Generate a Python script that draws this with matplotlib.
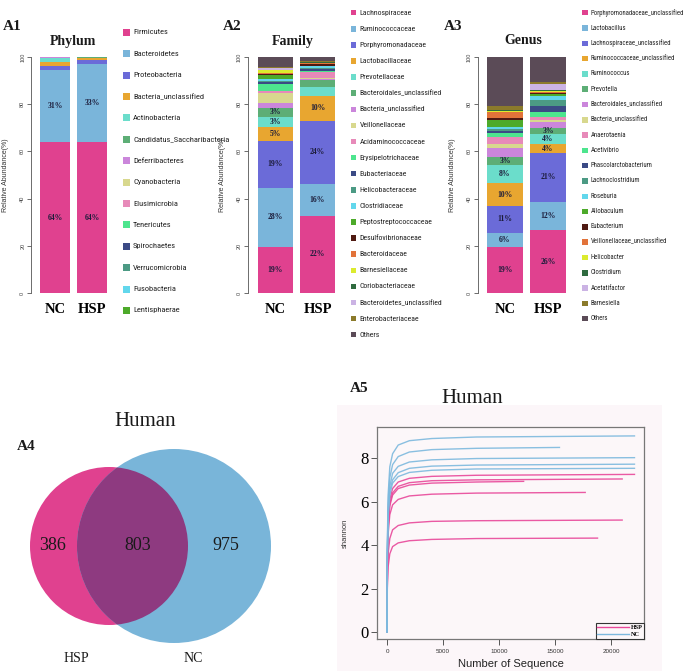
import matplotlib
matplotlib.use("Agg")
import matplotlib.pyplot as plt
from matplotlib import font_manager
from matplotlib.patches import Rectangle, Circle
from matplotlib.lines import Line2D

W, H = 685, 671

SERIF = ["Liberation Serif", "DejaVu Serif"]
SANS = ["Liberation Sans", "DejaVu Sans"]

# pick a condensed face for the long legend names if one is installed
_installed = {f.name for f in font_manager.fontManager.ttflist}
_narrow = [n for n in ("Liberation Sans Narrow", "DejaVu Sans Condensed", "Roboto Condensed",
                       "Open Sans Condensed", "Noto Sans Condensed") if n in _installed]
NARROW = (_narrow[:1] or ["Liberation Sans"]) + ["DejaVu Sans"]
LEG_SCALE = 1.0 if _narrow else 0.74

PALETTE = [
    "#E0418F", "#7AB5DA", "#6B6BD8", "#E8A630", "#6BDDCB", "#5DAE76",
    "#CB86DB", "#D8D88E", "#E78AB9", "#4DE58E", "#3B4A85", "#4C9A84",
    "#62D7EC", "#4DAA2A", "#4F1A12", "#E2733A", "#DCEB2E", "#2F6B3F",
    "#CBB3E4", "#8B7A2B", "#5B4B57",
]

GROUPS = ["NC", "HSP"]

# ---- A1: phylum ----
PHYLA = ["Firmicutes", "Bacteroidetes", "Proteobacteria", "Bacteria_unclassified",
         "Actinobacteria", "Candidatus_Saccharibacteria", "Deferribacteres",
         "Cyanobacteria", "Elusimicrobia", "Tenericutes", "Spirochaetes",
         "Verrucomicrobia", "Fusobacteria", "Lentisphaerae"]
PHYLUM_NC = [63.8, 30.8, 1.7, 1.7, 1.5, 0.2, 0.1, 0.05, 0.05, 0.05, 0.02, 0.02, 0.01, 0.0]
PHYLUM_HSP = [63.9, 33.2, 1.5, 0.8, 0.3, 0.2, 0.03, 0.02, 0.02, 0.01, 0.01, 0.01, 0.0, 0.0]
PHYLUM_NC_LABELS = ["64%", "31%"]
PHYLUM_HSP_LABELS = ["64%", "33%"]

# ---- A2: family ----
FAMILIES = ["Lachnospiraceae", "Ruminococcaceae", "Porphyromonadaceae", "Lactobacillaceae",
            "Prevotellaceae", "Bacteroidales_unclassified", "Bacteria_unclassified",
            "Veillonellaceae", "Acidaminococcaceae", "Erysipelotrichaceae", "Eubacteriaceae",
            "Helicobacteraceae", "Clostridiaceae", "Peptostreptococcaceae",
            "Desulfovibrionaceae", "Bacteroidaceae", "Barnesiellaceae", "Coriobacteriaceae",
            "Bacteroidetes_unclassified", "Enterobacteriaceae", "Others"]
FAMILY_NC = [19.5, 25.1, 19.8, 6.1, 3.9, 4.2, 2.0, 4.2, 0.8, 2.8, 1.0, 0.6, 0.5, 1.9,
             0.6, 0.3, 1.0, 0.4, 0.6, 0.6, 4.1]
FAMILY_HSP = [32.8, 13.5, 26.5, 10.8, 3.6, 2.9, 0.6, 0.2, 2.8, 0.5, 0.8, 0.5, 0.5, 0.3,
              0.6, 0.4, 0.2, 0.2, 0.2, 0.3, 1.8]
FAMILY_NC_LABELS = ["19%", "28%", "19%", "5%", "3%", "3%"]
FAMILY_HSP_LABELS = ["22%", "16%", "24%", "10%"]

# ---- A3: genus ----
GENERA = ["Porphyromonadaceae_unclassified", "Lactobacillus", "Lachnospiraceae_unclassified",
          "Ruminococcaceae_unclassified", "Ruminococcus", "Prevotella",
          "Bacteroidales_unclassified", "Bacteria_unclassified", "Anaerotaenia", "Acetivibrio",
          "Phascolarctobacterium", "Lachnoclostridium", "Roseburia", "Allobaculum",
          "Eubacterium", "Veillonellaceae_unclassified", "Helicobacter", "Clostridium",
          "Acetatifactor", "Barnesiella", "Others"]
GENUS_NC = [19.3, 6.2, 11.3, 9.7, 7.6, 3.4, 4.0, 1.7, 2.8, 2.0, 0.6, 0.8, 0.9, 2.8,
            0.9, 2.8, 0.5, 0.3, 0.1, 1.7, 20.6]
GENUS_HSP = [26.6, 12.1, 20.6, 3.8, 4.1, 2.8, 2.6, 0.8, 1.1, 2.3, 2.5, 2.6, 1.7, 0.8,
             0.5, 0.4, 0.4, 0.4, 2.6, 0.7, 10.6]
GENUS_NC_LABELS = ["19%", "6%", "11%", "10%", "8%", "3%"]
GENUS_HSP_LABELS = ["26%", "12%", "21%", "4%", "4%", "3%"]

# ---- A4: venn ----
VENN_ONLY_HSP = 386
VENN_SHARED = 803
VENN_ONLY_NC = 975

# ---- A5: rarefaction (shannon) ----
RARE_STEPS = [0, 30, 100, 250, 500, 1000, 2000, 4000, 8000]
NC_ENDS = [22100, 15400, 22100, 22100, 22100]
NC_SHANNON = [
    [0, 4.1, 6.3, 7.6, 8.2, 8.6, 8.8, 8.9, 8.97, 9.02],
    [0, 3.8, 5.9, 7.1, 7.7, 8.07, 8.28, 8.39, 8.45, 8.49],
    [0, 3.6, 5.6, 6.7, 7.3, 7.62, 7.82, 7.92, 7.98, 8.02],
    [0, 3.5, 5.4, 6.5, 7.0, 7.33, 7.53, 7.63, 7.68, 7.72],
    [0, 3.4, 5.3, 6.3, 6.85, 7.15, 7.34, 7.44, 7.5, 7.53],
]
HSP_ENDS = [22100, 21000, 12200, 17700, 21000, 18800]
HSP_SHANNON = [
    [0, 3.2, 5.0, 6.1, 6.6, 6.9, 7.07, 7.16, 7.21, 7.25],
    [0, 3.1, 4.9, 5.9, 6.4, 6.7, 6.87, 6.96, 7.0, 7.04],
    [0, 3.1, 4.8, 5.8, 6.3, 6.6, 6.76, 6.85, 6.9, 6.93],
    [0, 2.9, 4.5, 5.4, 5.85, 6.1, 6.26, 6.34, 6.39, 6.42],
    [0, 2.3, 3.6, 4.3, 4.7, 4.9, 5.02, 5.09, 5.12, 5.15],
    [0, 2.0, 3.0, 3.6, 3.93, 4.1, 4.2, 4.26, 4.3, 4.32],
]
HSP_COLOR = "#E8489A"
NC_COLOR = "#7DB9DE"


def px_axes(fig, x0, y0, x1, y1):
    return fig.add_axes([x0 / W, 1 - y1 / H, (x1 - x0) / W, (y1 - y0) / H])


def fig_text(fig, x, y, s, **kw):
    fig.text(x / W, 1 - y / H, s, **kw)


def stacked_panel(fig, axis_x, right_x, centers, bar_w, title, title_x,
                  nc_vals, hsp_vals, nc_labels, hsp_labels):
    ax = px_axes(fig, axis_x, 57, right_x, 293)
    spacing = centers[1] - centers[0]
    ax.set_xlim(-(centers[0] - axis_x) / spacing, 1 + (right_x - centers[1]) / spacing)
    ax.set_ylim(0, 100)
    width = bar_w / spacing
    for pos, vals, labs in ((0, nc_vals, nc_labels), (1, hsp_vals, hsp_labels)):
        bottom = 0
        for i, v in enumerate(vals):
            ax.bar(pos, v, width, bottom=bottom, color=PALETTE[i], linewidth=0)
            if i < len(labs):
                ax.text(pos, bottom + v / 2, labs[i], ha="center", va="center",
                        fontsize=5.5, fontweight="bold", family=SERIF, color="#1c1c3a")
            bottom += v
    for s in ["top", "right", "bottom"]:
        ax.spines[s].set_visible(False)
    ax.spines["left"].set_bounds(0, 100)
    ax.spines["left"].set_color("#555555")
    ax.spines["left"].set_linewidth(0.6)
    ax.set_yticks(range(0, 101, 20))
    ax.set_yticklabels([str(t) for t in range(0, 101, 20)], rotation=90, va="center",
                       fontsize=4, color="#444444", family=SANS)
    ax.tick_params(axis="y", length=3, width=0.6, pad=1.5, color="#555555")
    ax.set_xticks([0, 1])
    ax.set_xticklabels(GROUPS, fontsize=10.5, fontweight="bold", family=SERIF)
    ax.tick_params(axis="x", length=0, pad=7)
    ax.set_facecolor("none")
    fig_text(fig, title_x, 41, title, ha="center", va="center", fontsize=10,
             fontweight="bold", family=SERIF, color="#1a1a1a")
    fig_text(fig, axis_x - 26, 175, "Relative Abundance(%)", rotation=90, ha="center",
             va="center", fontsize=5, color="#333333", family=SANS)
    return ax


def legend_column(fig, names, x_sq, y0, step, size, fontsize):
    for i, name in enumerate(names):
        y = y0 + i * step
        fig.add_artist(Rectangle((x_sq / W, 1 - (y + size / 2) / H), size / W, size / H,
                                 transform=fig.transFigure, color=PALETTE[i], lw=0))
        fig_text(fig, x_sq + size + 3, y, name, ha="left", va="center",
                 fontsize=fontsize * LEG_SCALE, family=NARROW, color="#222222")


def main():
    fig = plt.figure(figsize=(W / 100, H / 100), dpi=100)

    # panel labels
    for lab, x, y in (("A1", 3, 26), ("A2", 223, 26), ("A3", 444, 26),
                      ("A4", 17, 447), ("A5", 350, 389)):
        fig_text(fig, x, y, lab, ha="left", va="center", fontsize=11,
                 fontweight="bold", family=SERIF, color="#1a1a1a")

    stacked_panel(fig, 31.5, 112, (55, 92), 30, "Phylum", 73,
                  PHYLUM_NC, PHYLUM_HSP, PHYLUM_NC_LABELS, PHYLUM_HSP_LABELS)
    legend_column(fig, PHYLA, 123, 32.3, 21.4, 7, 6.0)

    stacked_panel(fig, 248.3, 342, (275.5, 317.5), 35, "Family", 292.5,
                  FAMILY_NC, FAMILY_HSP, FAMILY_NC_LABELS, FAMILY_HSP_LABELS)
    legend_column(fig, FAMILIES, 351, 12.7, 16.1, 5.5, 5.6)

    stacked_panel(fig, 478.3, 574, (505, 548), 36, "Genus", 523,
                  GENUS_NC, GENUS_HSP, GENUS_NC_LABELS, GENUS_HSP_LABELS)
    legend_column(fig, GENERA, 582, 12.7, 15.3, 5.5, 4.9)

    # ---- A4 venn ----
    vax = px_axes(fig, 0, 400, 340, 671)
    vax.set_xlim(0, 340)
    vax.set_ylim(671, 400)
    vax.axis("off")
    hsp_c = Circle((109, 546), 79, color="#E0418F", lw=0)
    nc_c = Circle((174, 546), 97, color="#79B5D9", lw=0)
    vax.add_patch(hsp_c)
    vax.add_patch(nc_c)
    ov = Circle((174, 546), 97, color="#8E3A80", lw=0)
    vax.add_patch(ov)
    ov.set_clip_path(hsp_c)
    vax.text(145, 421, "Human", ha="center", va="center", fontsize=15, family=SERIF,
             color="#1a1a1a")
    vax.text(53, 546, str(VENN_ONLY_HSP), ha="center", va="center", fontsize=13,
             family=SERIF, color="#1a1a1a")
    vax.text(138, 546, str(VENN_SHARED), ha="center", va="center", fontsize=13,
             family=SERIF, color="#1a1a1a")
    vax.text(226, 546, str(VENN_ONLY_NC), ha="center", va="center", fontsize=13,
             family=SERIF, color="#1a1a1a")
    vax.text(76, 659, "HSP", ha="center", va="center", fontsize=10, family=SERIF,
             color="#1a1a1a")
    vax.text(193, 659, "NC", ha="center", va="center", fontsize=10, family=SERIF,
             color="#1a1a1a")

    # ---- A5 rarefaction ----
    fig.add_artist(Rectangle((337 / W, 0), (662 - 337) / W, (671 - 405) / H,
                             transform=fig.transFigure, color="#FCF6F9", lw=0, zorder=0))
    fig_text(fig, 472, 398, "Human", ha="center", va="center", fontsize=15,
             family=SERIF, color="#1a1a1a")
    ax = px_axes(fig, 377, 427, 644, 639)
    ax.set_facecolor("#FCF7F9")
    for ends, curves, color in ((HSP_ENDS, HSP_SHANNON, HSP_COLOR),
                                (NC_ENDS, NC_SHANNON, NC_COLOR)):
        for end, vals in zip(ends, curves):
            ax.plot(RARE_STEPS + [end], vals, color=color, lw=1.0, alpha=0.9)
    ax.set_xlim(-893, 22950)
    ax.set_ylim(-0.32, 9.43)
    ax.set_yticks([0, 2, 4, 6, 8])
    ax.set_yticklabels(["0", "2", "4", "6", "8"], fontsize=12, family=SERIF)
    ax.set_xticks([0, 5000, 10000, 15000, 20000])
    ax.set_xticklabels(["0", "5000", "10000", "15000", "20000"], fontsize=4.5,
                       family=SANS, color="#333333")
    ax.tick_params(axis="y", length=4, width=0.7, pad=2, color="#555555")
    ax.tick_params(axis="x", length=4, width=0.7, pad=3, color="#555555")
    for s in ax.spines.values():
        s.set_color("#777777")
        s.set_linewidth(0.9)
    ax.set_ylabel("shannon", fontsize=5.5, family=SANS, color="#333333", labelpad=8)
    ax.set_xlabel("Number of Sequence", fontsize=8, family=SANS, color="#222222",
                  labelpad=4)
    handles = [Line2D([], [], color=HSP_COLOR, lw=1), Line2D([], [], color=NC_COLOR, lw=1)]
    leg = ax.legend(handles, ["HSP", "NC"], loc="lower right", borderaxespad=0,
                    prop={"family": SERIF, "size": 4.5, "weight": "bold"},
                    handlelength=5, handletextpad=0.3, borderpad=0.25,
                    labelspacing=0.3, fancybox=False, framealpha=1)
    leg.get_frame().set_edgecolor("#333333")
    leg.get_frame().set_linewidth(0.8)
    leg.get_frame().set_facecolor("#FCF7F9")

    fig.savefig("out.png", dpi=100)


if __name__ == "__main__":
    main()
